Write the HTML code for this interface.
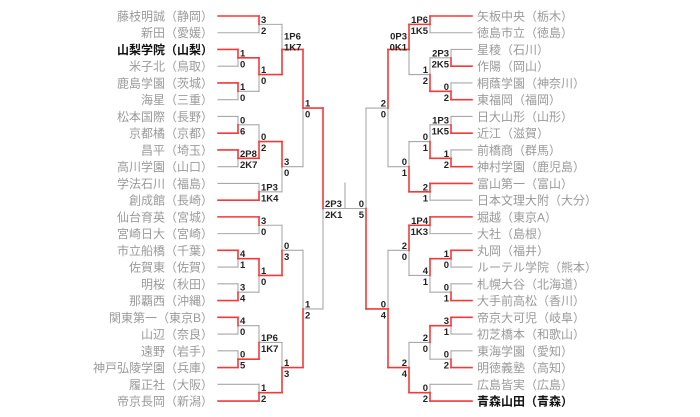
<!DOCTYPE html>
<html><head><meta charset="utf-8"><style>
html,body{margin:0;padding:0;background:#fff;}
svg{display:block;}
.n{font-family:"Liberation Sans","Noto Sans CJK JP",sans-serif;font-size:12px;fill:#9a9a9a;}
.b{fill:#111;font-weight:bold;}
.s{font-family:"Liberation Sans",sans-serif;font-size:9.5px;font-weight:bold;fill:#222;}
.L .s{text-anchor:start}
.R .s{text-anchor:end}
</style></head><body>
<svg id="g" width="700" height="417" viewBox="0 0 700 417" xmlns="http://www.w3.org/2000/svg">
<g id="gray"></g><g id="red"></g>
<g class="n" text-anchor="end">
<text x="213" y="20.5">藤枝明誠（静岡）</text>
<text x="213" y="37.2">新田（愛媛）</text>
<text x="213" y="54" class="n b">山梨学院（山梨）</text>
<text x="213" y="70.7">米子北（鳥取）</text>
<text x="213" y="87.5">鹿島学園（茨城）</text>
<text x="213" y="104.2">海星（三重）</text>
<text x="213" y="120.9">松本国際（長野）</text>
<text x="213" y="137.7">京都橘（京都）</text>
<text x="213" y="154.4">昌平（埼玉）</text>
<text x="213" y="171.2">高川学園（山口）</text>
<text x="213" y="187.9">学法石川（福島）</text>
<text x="213" y="204.6">創成館（長崎）</text>
<text x="213" y="221.4">仙台育英（宮城）</text>
<text x="213" y="238.1">宮崎日大（宮崎）</text>
<text x="213" y="254.9">市立船橋（千葉）</text>
<text x="213" y="271.6">佐賀東（佐賀）</text>
<text x="213" y="288.3">明桜（秋田）</text>
<text x="213" y="305.1">那覇西（沖縄）</text>
<text x="213" y="321.8">関東第一（東京B）</text>
<text x="213" y="338.6">山辺（奈良）</text>
<text x="213" y="355.3">遠野（岩手）</text>
<text x="213" y="372">神戸弘陵学園（兵庫）</text>
<text x="213" y="388.8">履正社（大阪）</text>
<text x="213" y="405.5">帝京長岡（新潟）</text>
</g>
<g class="n" text-anchor="start">
<text x="477" y="20.5">矢板中央（栃木）</text>
<text x="477" y="37.2">徳島市立（徳島）</text>
<text x="477" y="54">星稜（石川）</text>
<text x="477" y="70.7">作陽（岡山）</text>
<text x="477" y="87.5">桐蔭学園（神奈川）</text>
<text x="477" y="104.2">東福岡（福岡）</text>
<text x="477" y="120.9">日大山形（山形）</text>
<text x="477" y="137.7">近江（滋賀）</text>
<text x="477" y="154.4">前橋商（群馬）</text>
<text x="477" y="171.2">神村学園（鹿児島）</text>
<text x="477" y="187.9">富山第一（富山）</text>
<text x="477" y="204.6">日本文理大附（大分）</text>
<text x="477" y="221.4">堀越（東京A）</text>
<text x="477" y="238.1">大社（島根）</text>
<text x="477" y="254.9">丸岡（福井）</text>
<text x="477" y="271.6">ルーテル学院（熊本）</text>
<text x="477" y="288.3">札幌大谷（北海道）</text>
<text x="477" y="305.1">大手前高松（香川）</text>
<text x="477" y="321.8">帝京大可児（岐阜）</text>
<text x="477" y="338.6">初芝橋本（和歌山）</text>
<text x="477" y="355.3">東海学園（愛知）</text>
<text x="477" y="372">明徳義塾（高知）</text>
<text x="477" y="388.8">広島皆実（広島）</text>
<text x="477" y="405.5" class="n b">青森山田（青森）</text>
</g>
<g class="L">
<text class="s" x="261" y="22.9">3</text><text class="s" x="261" y="33.9">2</text>
<text class="s" x="240" y="56.4">1</text><text class="s" x="240" y="67.4">0</text>
<text class="s" x="240" y="89.8">1</text><text class="s" x="240" y="100.8">0</text>
<text class="s" x="261" y="73.1">1</text><text class="s" x="261" y="84.1">0</text>
<text class="s" x="284" y="39.6">1P6</text><text class="s" x="284" y="50.6">1K7</text>
<text class="s" x="240" y="123.3">0</text><text class="s" x="240" y="134.3">6</text>
<text class="s" x="240" y="156.8">2P8</text><text class="s" x="240" y="167.8">2K7</text>
<text class="s" x="261" y="140.1">0</text><text class="s" x="261" y="151.1">2</text>
<text class="s" x="261" y="190.3">1P3</text><text class="s" x="261" y="201.3">1K4</text>
<text class="s" x="284" y="165.2">3</text><text class="s" x="284" y="176.2">0</text>
<text class="s" x="305" y="106.6">1</text><text class="s" x="305" y="117.6">0</text>
<text class="s" x="261" y="223.8">3</text><text class="s" x="261" y="234.8">0</text>
<text class="s" x="240" y="257.2">4</text><text class="s" x="240" y="268.2">1</text>
<text class="s" x="240" y="290.7">3</text><text class="s" x="240" y="301.7">4</text>
<text class="s" x="261" y="274">1</text><text class="s" x="261" y="285">0</text>
<text class="s" x="284" y="248.9">0</text><text class="s" x="284" y="259.9">3</text>
<text class="s" x="240" y="324.2">4</text><text class="s" x="240" y="335.2">0</text>
<text class="s" x="240" y="357.7">0</text><text class="s" x="240" y="368.7">5</text>
<text class="s" x="261" y="340.9">1P6</text><text class="s" x="261" y="351.9">1K7</text>
<text class="s" x="261" y="391.2">1</text><text class="s" x="261" y="402.2">2</text>
<text class="s" x="284" y="366">1</text><text class="s" x="284" y="377">3</text>
<text class="s" x="305" y="307.5">1</text><text class="s" x="305" y="318.5">2</text>
<text class="s" x="325" y="207">2P3</text><text class="s" x="325" y="218">2K1</text>
</g>
<g class="R">
<text class="s" x="428" y="22.9">1P6</text><text class="s" x="428" y="33.9">1K5</text>
<text class="s" x="449" y="56.4">2P3</text><text class="s" x="449" y="67.4">2K5</text>
<text class="s" x="449" y="89.8">0</text><text class="s" x="449" y="100.8">2</text>
<text class="s" x="428" y="73.1">1</text><text class="s" x="428" y="84.1">2</text>
<text class="s" x="407" y="39.6">0P3</text><text class="s" x="407" y="50.6">0K1</text>
<text class="s" x="449" y="123.3">1P3</text><text class="s" x="449" y="134.3">1K5</text>
<text class="s" x="449" y="156.8">1</text><text class="s" x="449" y="167.8">2</text>
<text class="s" x="428" y="140.1">0</text><text class="s" x="428" y="151.1">1</text>
<text class="s" x="428" y="190.3">2</text><text class="s" x="428" y="201.3">1</text>
<text class="s" x="407" y="165.2">0</text><text class="s" x="407" y="176.2">1</text>
<text class="s" x="386" y="106.6">2</text><text class="s" x="386" y="117.6">0</text>
<text class="s" x="364" y="207">0</text><text class="s" x="364" y="218">5</text>
<text class="s" x="428" y="223.8">1P4</text><text class="s" x="428" y="234.8">1K3</text>
<text class="s" x="449" y="257.2">1</text><text class="s" x="449" y="268.2">0</text>
<text class="s" x="449" y="290.7">0</text><text class="s" x="449" y="301.7">1</text>
<text class="s" x="428" y="274">4</text><text class="s" x="428" y="285">1</text>
<text class="s" x="407" y="248.9">2</text><text class="s" x="407" y="259.9">0</text>
<text class="s" x="449" y="324.2">3</text><text class="s" x="449" y="335.2">1</text>
<text class="s" x="449" y="357.7">0</text><text class="s" x="449" y="368.7">2</text>
<text class="s" x="428" y="340.9">2</text><text class="s" x="428" y="351.9">0</text>
<text class="s" x="428" y="391.2">0</text><text class="s" x="428" y="402.2">2</text>
<text class="s" x="407" y="366">2</text><text class="s" x="407" y="377">4</text>
<text class="s" x="386" y="307.5">0</text><text class="s" x="386" y="318.5">4</text>
</g>
</svg>
<script>
(function(){
var NS="http://www.w3.org/2000/svg";
var gg=document.getElementById("gray"),gr=document.getElementById("red");
function Y(r){return 16+16.74*r;}
function ln(x1,y1,x2,y2,red){var l=document.createElementNS(NS,"line");
l.setAttribute("x1",x1);l.setAttribute("y1",y1);l.setAttribute("x2",x2);l.setAttribute("y2",y2);
l.setAttribute("stroke",red?"#f23a3a":"#a8a8a8");l.setAttribute("stroke-width",red?1.6:1.1);
l.setAttribute("stroke-linecap","square");(red?gr:gg).appendChild(l);}
function m(ra,xa,rb,xb,c,w){var ya=Y(ra),yb=Y(rb),ym=(ya+yb)/2,t=w=="T";
ln(xa,ya,c,ya,t);ln(xb,yb,c,yb,!t);ln(c,ya,c,ym,t);ln(c,ym,c,yb,!t);}
var L=[[0,218,1,218,259,"T"],[2,218,3,218,238,"T"],[4,218,5,218,238,"T"],[2.5,238,4.5,238,259,"T"],[0.5,259,3.5,259,282,"B"],
[6,218,7,218,238,"B"],[8,218,9,218,238,"T"],[6.5,238,8.5,238,259,"B"],[10,218,11,218,259,"B"],[7.5,259,10.5,259,282,"T"],[2,282,9,282,303,"T"],
[12,218,13,218,259,"T"],[14,218,15,218,238,"T"],[16,218,17,218,238,"B"],[14.5,238,16.5,238,259,"T"],[12.5,259,15.5,259,282,"B"],
[18,218,19,218,238,"T"],[20,218,21,218,238,"B"],[18.5,238,20.5,238,259,"B"],[22,218,23,218,259,"B"],[19.5,259,22.5,259,282,"B"],[14,282,21,282,303,"B"],
[5.5,303,17.5,303,323,"T"],
[0,472,1,472,430,"T"],[2,472,3,472,451,"B"],[4,472,5,472,451,"B"],[2.5,451,4.5,451,430,"B"],[0.5,430,3.5,430,409,"T"],
[6,472,7,472,451,"B"],[8,472,9,472,451,"B"],[6.5,451,8.5,451,430,"B"],[10,472,11,472,430,"T"],[7.5,430,10.5,430,409,"B"],[2,409,9,409,388,"T"],
[12,472,13,472,430,"T"],[14,472,15,472,451,"T"],[16,472,17,472,451,"B"],[14.5,451,16.5,451,430,"T"],[12.5,430,15.5,430,409,"T"],
[18,472,19,472,451,"T"],[20,472,21,472,451,"B"],[18.5,451,20.5,451,430,"T"],[22,472,23,472,430,"B"],[19.5,430,22.5,430,409,"B"],[14,409,21,409,388,"B"],
[5.5,388,17.5,388,366,"B"]];
L.forEach(function(a){m.apply(null,a);});
ln(323,Y(11.5),366,Y(11.5),false);
ln(345,183,345,Y(11.5),false);
})();
</script>
</body></html>
